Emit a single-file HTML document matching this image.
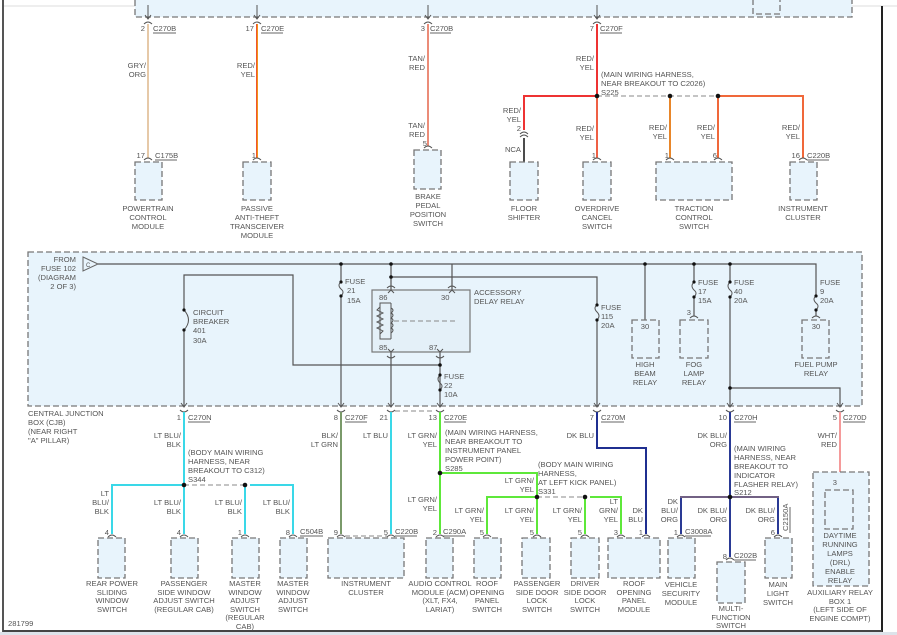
<!DOCTYPE html>
<html><head><meta charset="utf-8"><style>
html,body{margin:0;padding:0;background:#fff}
svg{display:block}
text{font-family:"Liberation Sans",sans-serif;font-size:7.6px;fill:#555}
.b{fill:#e8f4fc;stroke:#777;stroke-width:1.3;stroke-dasharray:6,3}
.w{fill:none;stroke:#555;stroke-width:1.2}
.d{fill:none;stroke:#888;stroke-width:1;stroke-dasharray:5,3}
.c{fill:none;stroke:#555;stroke-width:1}
.m{text-anchor:middle}
.e{text-anchor:end}
</style></head><body>
<svg width="897" height="635" viewBox="0 0 897 635" xmlns="http://www.w3.org/2000/svg">
<rect x="0" y="632" width="897" height="3" fill="#dde3ea"/>
<line x1="3" y1="6" x2="897" y2="6" stroke="#ddd" stroke-width="1"/>
<line x1="3" y1="0" x2="3" y2="632" stroke="#555" stroke-width="2"/>
<line x1="882" y1="6" x2="882" y2="632" stroke="#222" stroke-width="2"/>
<line x1="3" y1="631" x2="882" y2="631" stroke="#444" stroke-width="2"/>

<!-- top band -->
<path d="M135,0 V17 H852 V0" class="b"/>
<rect x="753" y="-4" width="27" height="18" class="b"/>
<!-- top arrows -->
<g class="c">
<path d="M148,5V19M145,15L148,19L151,15M257,5V19M254,15L257,19L260,15M428,5V19M425,15L428,19L431,15M597,5V19M594,15L597,19L600,15"/>
<path d="M144,24Q148,20 152,24M253,24Q257,20 261,24M424,24Q428,20 432,24M593,24Q597,20 601,24"/>
</g>
<text x="145" y="31" class="e">2</text><text x="153" y="31">C270B</text><line x1="153" y1="33" x2="176" y2="33" stroke="#666"/>
<text x="254" y="31" class="e">17</text><text x="261" y="31">C270E</text><line x1="261" y1="33" x2="283" y2="33" stroke="#666"/>
<text x="425" y="31" class="e">3</text><text x="430" y="31">C270B</text><line x1="430" y1="33" x2="451" y2="33" stroke="#666"/>
<text x="594" y="31" class="e">7</text><text x="600" y="31">C270F</text><line x1="600" y1="33" x2="622" y2="33" stroke="#666"/>

<!-- top wires -->
<line x1="148" y1="24" x2="148" y2="158" stroke="#e6c9a8" stroke-width="2"/>
<line x1="257" y1="24" x2="257" y2="158" stroke="#e53" stroke-width="2"/><line x1="257.5" y1="24" x2="257.5" y2="158" stroke="#f5c000" stroke-width="0.6"/>
<line x1="428" y1="24" x2="428" y2="146" stroke="#eb8c78" stroke-width="2"/>
<path d="M597,24V96H524V130" stroke="#e33" stroke-width="2" fill="none"/>
<line x1="597" y1="96" x2="597" y2="158" stroke="#ef6045" stroke-width="2"/>
<line x1="670" y1="96" x2="670" y2="158" stroke="#e8862a" stroke-width="2"/>
<path d="M718,158V96H803V158" stroke="#f0683a" stroke-width="2" fill="none"/>
<line x1="524" y1="138" x2="524" y2="162" stroke="#111" stroke-width="1.5"/>
<line x1="597" y1="96" x2="718" y2="96" class="d"/>
<g fill="#111"><circle cx="597" cy="96" r="2.3"/><circle cx="670" cy="96" r="2.3"/><circle cx="718" cy="96" r="2.3"/></g>
<g class="c"><path d="M144,160Q148,156 152,160M253,160Q257,156 261,160M424,148Q428,144 432,148M520,137Q524,133 528,137M520,134Q524,130 528,134M593,160Q597,156 601,160M666,160Q670,156 674,160M714,160Q718,156 722,160M799,160Q803,156 807,160"/></g>

<rect x="135" y="162" width="27" height="38" class="b"/>
<rect x="243" y="162" width="28" height="38" class="b"/>
<rect x="414" y="150" width="27" height="39" class="b"/>
<rect x="510" y="162" width="28" height="38" class="b"/>
<rect x="583" y="162" width="28" height="38" class="b"/>
<rect x="656" y="162" width="76" height="38" class="b"/>
<rect x="790" y="162" width="27" height="38" class="b"/>

<text x="146" y="68" class="e">GRY/</text><text x="146" y="77" class="e">ORG</text>
<text x="255" y="68" class="e">RED/</text><text x="255" y="77" class="e">YEL</text>
<text x="425" y="61" class="e">TAN/</text><text x="425" y="70" class="e">RED</text>
<text x="425" y="128" class="e">TAN/</text><text x="425" y="137" class="e">RED</text>
<text x="594" y="61" class="e">RED/</text><text x="594" y="70" class="e">YEL</text>
<text x="601" y="77">(MAIN WIRING HARNESS,</text><text x="601" y="86">NEAR BREAKOUT TO C2026)</text><text x="601" y="95">S225</text>
<text x="521" y="113" class="e">RED/</text><text x="521" y="122" class="e">YEL</text>
<text x="521" y="131" class="e">2</text><text x="521" y="152" class="e">NCA</text>
<text x="594" y="131" class="e">RED/</text><text x="594" y="140" class="e">YEL</text>
<text x="667" y="130" class="e">RED/</text><text x="667" y="139" class="e">YEL</text>
<text x="715" y="130" class="e">RED/</text><text x="715" y="139" class="e">YEL</text>
<text x="800" y="130" class="e">RED/</text><text x="800" y="139" class="e">YEL</text>
<text x="145" y="158" class="e">17</text><text x="155" y="158">C175B</text><line x1="155" y1="160" x2="177" y2="160" stroke="#666"/>
<text x="256" y="158" class="e">1</text><text x="427" y="146" class="e">5</text>
<text x="596" y="158" class="e">1</text><text x="669" y="158" class="e">1</text><text x="717" y="158" class="e">6</text>
<text x="800" y="158" class="e">16</text><text x="807" y="158">C220B</text><line x1="807" y1="160" x2="829" y2="160" stroke="#666"/>

<g class="m">
<text x="148" y="211">POWERTRAIN</text><text x="148" y="220">CONTROL</text><text x="148" y="229">MODULE</text>
<text x="257" y="211">PASSIVE</text><text x="257" y="220">ANTI-THEFT</text><text x="257" y="229">TRANSCEIVER</text><text x="257" y="238">MODULE</text>
<text x="428" y="199">BRAKE</text><text x="428" y="208">PEDAL</text><text x="428" y="217">POSITION</text><text x="428" y="226">SWITCH</text>
<text x="524" y="211">FLOOR</text><text x="524" y="220">SHIFTER</text>
<text x="597" y="211">OVERDRIVE</text><text x="597" y="220">CANCEL</text><text x="597" y="229">SWITCH</text>
<text x="694" y="211">TRACTION</text><text x="694" y="220">CONTROL</text><text x="694" y="229">SWITCH</text>
<text x="803" y="211">INSTRUMENT</text><text x="803" y="220">CLUSTER</text>
</g>

<!-- CJB -->
<rect x="28" y="252" width="834" height="154" class="b"/>
<path d="M83,257L98,264L83,271Z" fill="none" stroke="#666"/><text x="86" y="267" style="font-size:6px">C</text>
<text x="76" y="262" class="e">FROM</text><text x="76" y="271" class="e">FUSE 102</text><text x="76" y="280" class="e">(DIAGRAM</text><text x="76" y="289" class="e">2 OF 3)</text>
<g class="w">
<path d="M98,264H816V296"/>
<path d="M184,406V330M184,310V275H293V365H440"/>
<path d="M341,264V281M341,296V406"/>
<path d="M391,264V406M391,277H597V304M597,320V406"/>
<path d="M452,264V310L463,331"/>
<path d="M440,330V406"/>
<path d="M645,264V321M694,264V282M694,297V316M730,264V282M730,297V406M730,388H840V406M816,310V316"/>
</g>
<!-- fuse arcs -->
<g class="c">
<path d="M184,310Q193,320 184,330"/>
<path d="M341,282Q337,285 341,289Q345,292 341,296"/>
<path d="M597,305Q593,308 597,312Q601,316 597,320"/>
<path d="M440,375Q436,379 440,383Q444,386 440,390"/>
<path d="M694,282Q690,286 694,290Q698,293 694,297"/>
<path d="M730,282Q726,286 730,290Q734,293 730,297"/>
<path d="M816,296Q812,299 816,303Q820,306 816,310"/>
</g>
<g fill="#111">
<circle cx="341" cy="264" r="1.8"/><circle cx="391" cy="264" r="1.8"/><circle cx="391" cy="277" r="1.8"/><circle cx="645" cy="264" r="1.8"/><circle cx="694" cy="264" r="1.8"/><circle cx="730" cy="264" r="1.8"/><circle cx="730" cy="388" r="1.8"/><circle cx="440" cy="365" r="1.8"/>
<circle cx="184" cy="310" r="1.6"/><circle cx="184" cy="330" r="1.6"/><circle cx="341" cy="282" r="1.6"/><circle cx="341" cy="296" r="1.6"/><circle cx="597" cy="305" r="1.6"/><circle cx="597" cy="320" r="1.6"/><circle cx="440" cy="375" r="1.6"/><circle cx="440" cy="390" r="1.6"/><circle cx="694" cy="282" r="1.6"/><circle cx="694" cy="297" r="1.6"/><circle cx="730" cy="282" r="1.6"/><circle cx="730" cy="297" r="1.6"/><circle cx="816" cy="296" r="1.6"/><circle cx="816" cy="310" r="1.6"/>
<circle cx="391" cy="303" r="1.6"/><circle cx="391" cy="339" r="1.6"/><circle cx="452" cy="310" r="1.6"/><circle cx="463" cy="331" r="1.6"/><circle cx="440" cy="330" r="1.6"/>
</g>
<!-- relay -->
<rect x="372" y="290" width="98" height="62" fill="#e4f0f8" stroke="#777" stroke-width="1.2"/>
<path d="M391,303V339M391,303H380V339H391" class="c"/>
<path d="M380,307l-3,3 6,3-6,3 6,3-6,3 6,3-6,3 6,3-3,3" class="c"/>
<path d="M391,308q4,2 0,5q4,2 0,5q4,2 0,5q4,2 0,5q4,2 0,5" class="c"/>
<line x1="394" y1="321" x2="458" y2="321" class="d"/>
<g class="c"><path d="M387,288Q391,284 395,288M448,288Q452,284 456,288M388,293L391,290L394,293M449,293L452,290L455,293M388,349L391,352L394,349M437,349L440,352L443,349M387,356Q391,360 395,356M436,356Q440,360 444,356"/></g>
<text x="379" y="300">86</text><text x="441" y="300">30</text><text x="379" y="350">85</text><text x="429" y="350">87</text>
<text x="474" y="295">ACCESSORY</text><text x="474" y="304">DELAY RELAY</text>
<text x="193" y="315">CIRCUIT</text><text x="193" y="324">BREAKER</text><text x="193" y="333">401</text><text x="193" y="343">30A</text>
<text x="345" y="284">FUSE</text><text x="347" y="293">21</text><text x="347" y="303">15A</text>
<text x="601" y="310">FUSE</text><text x="601" y="319">115</text><text x="601" y="328">20A</text>
<text x="444" y="379">FUSE</text><text x="444" y="388">22</text><text x="444" y="397">10A</text>
<text x="698" y="285">FUSE</text><text x="698" y="294">17</text><text x="698" y="303">15A</text>
<text x="734" y="285">FUSE</text><text x="734" y="294">40</text><text x="734" y="303">20A</text>
<text x="820" y="285">FUSE</text><text x="820" y="294">9</text><text x="820" y="303">20A</text>
<text x="691" y="315" class="e">3</text>
<g class="c"><path d="M641,322Q645,318 649,322M690,318Q694,314 698,318M812,318Q816,314 820,318"/></g>
<rect x="632" y="320" width="27" height="38" class="b"/><rect x="680" y="320" width="28" height="38" class="b"/><rect x="802" y="320" width="27" height="38" class="b"/>
<text x="645" y="329" class="m">30</text><text x="816" y="329" class="m">30</text>
<g class="m"><text x="645" y="367">HIGH</text><text x="645" y="376">BEAM</text><text x="645" y="385">RELAY</text>
<text x="694" y="367">FOG</text><text x="694" y="376">LAMP</text><text x="694" y="385">RELAY</text>
<text x="816" y="367">FUEL PUMP</text><text x="816" y="376">RELAY</text></g>

<!-- bottom connector arrows -->
<g class="c"><path d="M181,403L184,407L187,403M338,403L341,407L344,403M388,403L391,407L394,403M437,403L440,407L443,403M594,403L597,407L600,403M727,403L730,407L733,403M837,403L840,407L843,403M180,410Q184,414 188,410M337,410Q341,414 345,410M387,410Q391,414 395,410M436,410Q440,414 444,410M593,410Q597,414 601,410M726,410Q730,414 734,410M836,410Q840,414 844,410"/></g>
<path d="M395,411H432" class="d" stroke-width="0.8"/>
<text x="181" y="420" class="e">1</text><text x="188" y="420">C270N</text><line x1="188" y1="422" x2="210" y2="422" stroke="#666"/>
<text x="338" y="420" class="e">8</text><text x="345" y="420">C270F</text><line x1="345" y1="422" x2="367" y2="422" stroke="#666"/>
<text x="388" y="420" class="e">21</text>
<text x="437" y="420" class="e">13</text><text x="444" y="420">C270E</text><line x1="444" y1="422" x2="466" y2="422" stroke="#666"/>
<text x="594" y="420" class="e">7</text><text x="601" y="420">C270M</text><line x1="601" y1="422" x2="624" y2="422" stroke="#666"/>
<text x="727" y="420" class="e">10</text><text x="734" y="420">C270H</text><line x1="734" y1="422" x2="756" y2="422" stroke="#666"/>
<text x="837" y="420" class="e">5</text><text x="843" y="420">C270D</text><line x1="843" y1="422" x2="865" y2="422" stroke="#666"/>
<text x="28" y="416">CENTRAL JUNCTION</text><text x="28" y="425">BOX (CJB)</text><text x="28" y="434">(NEAR RIGHT</text><text x="28" y="443">"A" PILLAR)</text>

<!-- bottom wires -->
<g fill="none" stroke-width="2">
<path d="M184,412V534M184,485H112V534" stroke="#3ad8e8"/>
<path d="M250,485H293V534" stroke="#3ad8e8"/>
<path d="M245,485V534" stroke="#3ad8e8"/>
<path d="M341,412V534" stroke="#7a9a6a"/>
<path d="M391,412V534" stroke="#3ad8e8"/>
<path d="M440,412V534M440,473H537V497M537,497V534M537,497H487V534M590,497H621V534" stroke="#5ee83a"/>
<path d="M585,497V534" stroke="#5ee83a"/>
<path d="M597,412V448H646V534" stroke="#1f2f90"/>
<path d="M730,412V557M730,497H681V534M730,497H778V534" stroke="#2a3a95"/>
<path d="M840,412V485" stroke="#f59a9a"/>
</g>
<g fill="none" stroke="#e9a36a" stroke-width="0.7"><path d="M729,497H680M731,497H779"/></g>
<line x1="184" y1="485" x2="245" y2="485" class="d"/>
<line x1="537" y1="497" x2="585" y2="497" class="d"/>
<g fill="#111"><circle cx="184" cy="485" r="2.3"/><circle cx="245" cy="485" r="2.3"/><circle cx="440" cy="473" r="2.3"/><circle cx="537" cy="497" r="2.3"/><circle cx="585" cy="497" r="2.3"/><circle cx="730" cy="497" r="2.3"/></g>
<g class="c"><path d="M108,537Q112,533 116,537M180,537Q184,533 188,537M241,537Q245,533 249,537M289,537Q293,533 297,537M337,537Q341,533 345,537M387,537Q391,533 395,537M436,537Q440,533 444,537M483,537Q487,533 491,537M533,537Q537,533 541,537M581,537Q585,533 589,537M617,537Q621,533 625,537M642,537Q646,533 650,537M677,537Q681,533 685,537M726,560Q730,556 734,560M774,537Q778,533 782,537M836,487Q840,483 844,487"/></g>
<path d="M345,536H387" class="d" stroke-width="0.8"/>

<rect x="98" y="538" width="27" height="40" class="b"/>
<rect x="171" y="538" width="27" height="40" class="b"/>
<rect x="232" y="538" width="27" height="40" class="b"/>
<rect x="280" y="538" width="27" height="40" class="b"/>
<rect x="328" y="538" width="76" height="40" class="b"/>
<rect x="426" y="538" width="27" height="40" class="b"/>
<rect x="474" y="538" width="27" height="40" class="b"/>
<rect x="522" y="538" width="28" height="40" class="b"/>
<rect x="571" y="538" width="28" height="40" class="b"/>
<rect x="608" y="538" width="52" height="40" class="b"/>
<rect x="668" y="538" width="27" height="40" class="b"/>
<rect x="717" y="562" width="28" height="41" class="b"/>
<rect x="765" y="538" width="27" height="40" class="b"/>
<rect x="813" y="472" width="56" height="114" class="b"/>
<rect x="825" y="490" width="28" height="39" class="b"/>

<text x="181" y="438" class="e">LT BLU/</text><text x="181" y="447" class="e">BLK</text>
<text x="188" y="455">(BODY MAIN WIRING</text><text x="188" y="464">HARNESS, NEAR</text><text x="188" y="473">BREAKOUT TO C312)</text><text x="188" y="482">S344</text>
<text x="109" y="496" class="e">LT</text><text x="109" y="505" class="e">BLU/</text><text x="109" y="514" class="e">BLK</text>
<text x="181" y="505" class="e">LT BLU/</text><text x="181" y="514" class="e">BLK</text>
<text x="242" y="505" class="e">LT BLU/</text><text x="242" y="514" class="e">BLK</text>
<text x="290" y="505" class="e">LT BLU/</text><text x="290" y="514" class="e">BLK</text>
<text x="338" y="438" class="e">BLK/</text><text x="338" y="447" class="e">LT GRN</text>
<text x="388" y="438" class="e">LT BLU</text>
<text x="437" y="438" class="e">LT GRN/</text><text x="437" y="447" class="e">YEL</text>
<text x="445" y="435">(MAIN WIRING HARNESS,</text><text x="445" y="444">NEAR BREAKOUT TO</text><text x="445" y="453">INSTRUMENT PANEL</text><text x="445" y="462">POWER POINT)</text><text x="445" y="471">S285</text>
<text x="437" y="502" class="e">LT GRN/</text><text x="437" y="511" class="e">YEL</text>
<text x="534" y="483" class="e">LT GRN/</text><text x="534" y="492" class="e">YEL</text>
<text x="538" y="467">(BODY MAIN WIRING</text><text x="538" y="476">HARNESS,</text><text x="538" y="485">AT LEFT KICK PANEL)</text><text x="538" y="494">S331</text>
<text x="484" y="513" class="e">LT GRN/</text><text x="484" y="522" class="e">YEL</text>
<text x="534" y="513" class="e">LT GRN/</text><text x="534" y="522" class="e">YEL</text>
<text x="582" y="513" class="e">LT GRN/</text><text x="582" y="522" class="e">YEL</text>
<text x="618" y="504" class="e">LT</text><text x="618" y="513" class="e">GRN/</text><text x="618" y="522" class="e">YEL</text>
<text x="594" y="438" class="e">DK BLU</text>
<text x="643" y="513" class="e">DK</text><text x="643" y="522" class="e">BLU</text>
<text x="727" y="438" class="e">DK BLU/</text><text x="727" y="447" class="e">ORG</text>
<text x="734" y="451">(MAIN WIRING</text><text x="734" y="460">HARNESS, NEAR</text><text x="734" y="469">BREAKOUT TO</text><text x="734" y="478">INDICATOR</text><text x="734" y="487">FLASHER RELAY)</text><text x="734" y="495">S212</text>
<text x="678" y="504" class="e">DK</text><text x="678" y="513" class="e">BLU/</text><text x="678" y="522" class="e">ORG</text>
<text x="727" y="513" class="e">DK BLU/</text><text x="727" y="522" class="e">ORG</text>
<text x="775" y="513" class="e">DK BLU/</text><text x="775" y="522" class="e">ORG</text>
<text x="837" y="438" class="e">WHT/</text><text x="837" y="447" class="e">RED</text>

<text x="109" y="535" class="e">4</text><text x="181" y="535" class="e">4</text><text x="242" y="535" class="e">1</text><text x="290" y="535" class="e">8</text>
<text x="300" y="534">C504B</text><line x1="300" y1="536" x2="323" y2="536" stroke="#666"/>
<text x="338" y="535" class="e">9</text><text x="388" y="535" class="e">5</text>
<text x="395" y="534">C220B</text><line x1="395" y1="536" x2="417" y2="536" stroke="#666"/>
<text x="437" y="535" class="e">2</text><text x="443" y="534">C290A</text><line x1="443" y1="536" x2="465" y2="536" stroke="#666"/>
<text x="484" y="535" class="e">5</text><text x="534" y="535" class="e">5</text><text x="582" y="535" class="e">5</text><text x="618" y="535" class="e">3</text><text x="643" y="535" class="e">1</text>
<text x="678" y="535" class="e">1</text><text x="685" y="534">C3008A</text><line x1="685" y1="536" x2="711" y2="536" stroke="#666"/>
<text x="727" y="559" class="e">8</text><text x="734" y="558">C202B</text><line x1="734" y1="560" x2="756" y2="560" stroke="#666"/>
<text x="775" y="535" class="e">6</text>
<text x="788" y="531" transform="rotate(-90 788 531)">C2150A</text><line x1="790" y1="507" x2="790" y2="533" stroke="#666"/>
<text x="837" y="485" class="e">3</text>

<g class="m">
<text x="112" y="586">REAR POWER</text><text x="112" y="595">SLIDING</text><text x="112" y="603">WINDOW</text><text x="112" y="612">SWITCH</text>
<text x="184" y="586">PASSENGER</text><text x="184" y="595">SIDE WINDOW</text><text x="184" y="603">ADJUST SWITCH</text><text x="184" y="612">(REGULAR CAB)</text>
<text x="245" y="586">MASTER</text><text x="245" y="595">WINDOW</text><text x="245" y="603">ADJUST</text><text x="245" y="612">SWITCH</text><text x="245" y="620">(REGULAR</text><text x="245" y="629">CAB)</text>
<text x="293" y="586">MASTER</text><text x="293" y="595">WINDOW</text><text x="293" y="603">ADJUST</text><text x="293" y="612">SWITCH</text>
<text x="366" y="586">INSTRUMENT</text><text x="366" y="595">CLUSTER</text>
<text x="440" y="586">AUDIO CONTROL</text><text x="440" y="595">MODULE (ACM)</text><text x="440" y="603">(XLT, FX4,</text><text x="440" y="612">LARIAT)</text>
<text x="487" y="586">ROOF</text><text x="487" y="595">OPENING</text><text x="487" y="603">PANEL</text><text x="487" y="612">SWITCH</text>
<text x="537" y="586">PASSENGER</text><text x="537" y="595">SIDE DOOR</text><text x="537" y="603">LOCK</text><text x="537" y="612">SWITCH</text>
<text x="585" y="586">DRIVER</text><text x="585" y="595">SIDE DOOR</text><text x="585" y="603">LOCK</text><text x="585" y="612">SWITCH</text>
<text x="634" y="586">ROOF</text><text x="634" y="595">OPENING</text><text x="634" y="603">PANEL</text><text x="634" y="612">MODULE</text>
<text x="681" y="587">VEHICLE</text><text x="681" y="596">SECURITY</text><text x="681" y="605">MODULE</text>
<text x="731" y="611">MULTI-</text><text x="731" y="620">FUNCTION</text><text x="731" y="628">SWITCH</text>
<text x="778" y="587">MAIN</text><text x="778" y="596">LIGHT</text><text x="778" y="605">SWITCH</text>
<text x="840" y="538">DAYTIME</text><text x="840" y="547">RUNNING</text><text x="840" y="556">LAMPS</text><text x="840" y="565">(DRL)</text><text x="840" y="574">ENABLE</text><text x="840" y="583">RELAY</text>
<text x="840" y="595">AUXILIARY RELAY</text><text x="840" y="604">BOX 1</text><text x="840" y="612">(LEFT SIDE OF</text><text x="840" y="621">ENGINE COMPT)</text>
</g>
<text x="8" y="626">281799</text>
</svg>
</body></html>
